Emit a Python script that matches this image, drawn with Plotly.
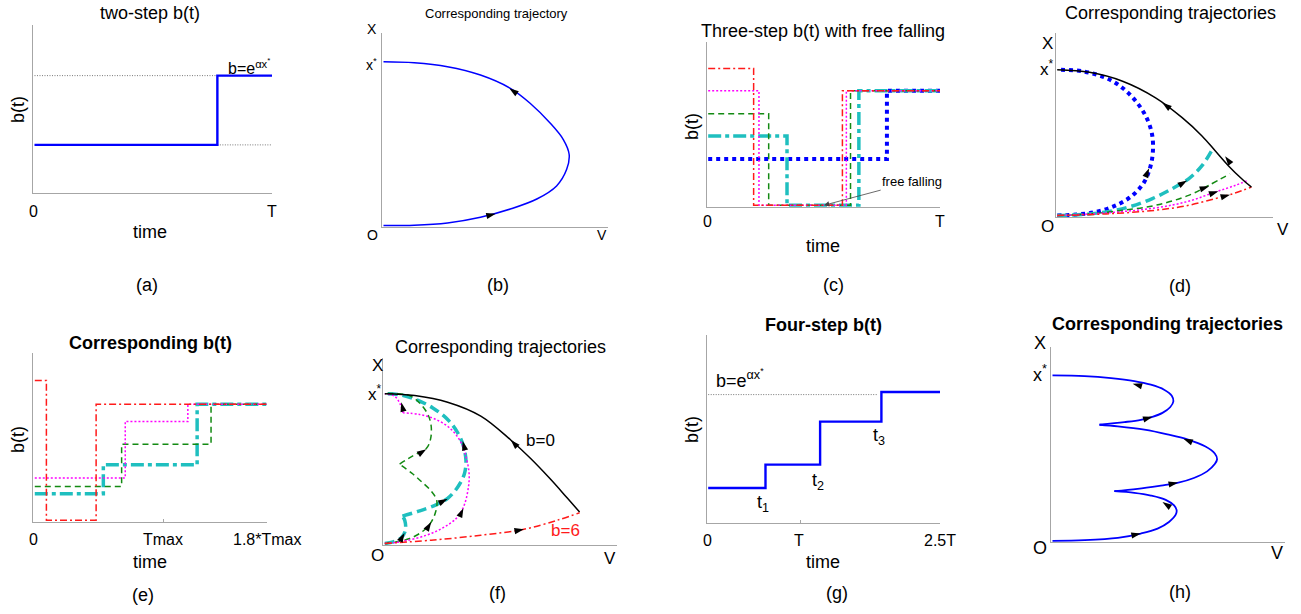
import math
import plotly.graph_objects as go

W, H = 1301, 614

# ---------------- data ----------------
# (a) two-step b(t)
a_time = [0, 0.77, 1.0]
a_b = [0.28, 0.696, 0.696]
a_guide_hi_time = [0, 1.0]
a_guide_hi_b = [0.696, 0.696]
a_guide_lo_time = [0.77, 1.0]
a_guide_lo_b = [0.28, 0.28]

# (b) corresponding trajectory (V, X)
b_V = [0, 0.137, 0.285, 0.432, 0.565, 0.653, 0.742, 0.801, 0.827, 0.816, 0.771, 0.683, 0.565, 0.432, 0.285, 0.137, 0]
b_X = [1.0, 0.994, 0.970, 0.919, 0.838, 0.747, 0.626, 0.525, 0.434, 0.343, 0.242, 0.162, 0.101, 0.051, 0.016, 0.002, 0]
b_arrows = [(0.56, 0.838, 0.60, 0.80), (0.50, 0.072, 0.45, 0.056)]

# (c) three-step b(t) with free falling
c_red_t = [0, 0.196, 0.579, 1.0]
c_red_b = [0.838, 0, 0.701, 0.701]
c_magenta_t = [0, 0.219, 0.596, 1.0]
c_magenta_b = [0.701, 0, 0.701, 0.701]
c_green_t = [0, 0.261, 0.614, 1.0]
c_green_b = [0.560, 0, 0.701, 0.701]
c_cyan_t = [0, 0.340, 0.650, 1.0]
c_cyan_b = [0.424, 0, 0.701, 0.701]
c_blue_t = [0, 0.771, 1.0]
c_blue_b = [0.283, 0.701, 0.701]
c_freefall_arrow = (0.50, 0.0, 0.88, 0.144)

# (d) corresponding trajectories
d_black_V = [0, 0.150, 0.303, 0.456, 0.579, 0.671, 0.732, 0.793, 0.855, 0.9]
d_black_X = [1.0, 0.982, 0.921, 0.807, 0.671, 0.546, 0.444, 0.342, 0.252, 0.195]
d_blue_V = [0, 0.089, 0.181, 0.273, 0.349, 0.403, 0.433, 0.444, 0.438, 0.410, 0.364, 0.303, 0.227, 0.119, 0]
d_blue_X = [0, 0.007, 0.025, 0.070, 0.138, 0.229, 0.342, 0.456, 0.569, 0.683, 0.785, 0.875, 0.943, 0.989, 1.0]
d_cyan_V = [0, 0.119, 0.227, 0.334, 0.441, 0.533, 0.609, 0.671, 0.724]
d_cyan_X = [0, 0.007, 0.025, 0.059, 0.116, 0.184, 0.252, 0.342, 0.467]
d_green_V = [0, 0.150, 0.303, 0.456, 0.609, 0.701, 0.801]
d_green_X = [0, 0.011, 0.036, 0.070, 0.138, 0.206, 0.286]
d_magenta_V = [0, 0.227, 0.456, 0.609, 0.732, 0.824, 0.882]
d_magenta_X = [0, 0.018, 0.052, 0.098, 0.161, 0.206, 0.240]
d_red_V = [0, 0.227, 0.456, 0.609, 0.732, 0.824, 0.9]
d_red_X = [0, 0.011, 0.036, 0.070, 0.116, 0.154, 0.195]
d_arrows = [(0.487, 0.773, 0.525, 0.732), (0.778, 0.406, 0.801, 0.361),
            (0.426, 0.324, 0.413, 0.279), (0.602, 0.240, 0.564, 0.206),
            (0.704, 0.200, 0.671, 0.184), (0.747, 0.166, 0.714, 0.150),
            (0.801, 0.143, 0.763, 0.127)]

# (e) corresponding b(t)
e_red_t = [0, 0.090, 0.476, 1.8]
e_red_b = [0.836, 0, 0.693, 0.693]
e_magenta_t = [0, 0.702, 1.188, 1.8]
e_magenta_b = [0.253, 0.590, 0.693, 0.693]
e_green_t = [0, 0.674, 1.368, 1.8]
e_green_b = [0.202, 0.455, 0.693, 0.693]
e_cyan_t = [0, 0.532, 1.260, 1.8]
e_cyan_b = [0.158, 0.331, 0.693, 0.693]

# (f) corresponding trajectories
f_black_V = [0, 0.129, 0.271, 0.414, 0.543, 0.629, 0.714, 0.786, 0.840]
f_black_X = [1.0, 0.987, 0.943, 0.850, 0.691, 0.567, 0.430, 0.305, 0.210]
f_red_V = [0, 0.2, 0.414, 0.6, 0.743, 0.84]
f_red_X = [0, 0.022, 0.055, 0.095, 0.155, 0.205]
f_magenta_V = [0, 0.079, 0.179, 0.25, 0.307, 0.339, 0.357, 0.364, 0.353, 0.329, 0.286, 0.221, 0.15, 0.079,
               None, 0.079, 0.064, 0.043, 0]
f_magenta_X = [0, 0.015, 0.055, 0.104, 0.166, 0.243, 0.342, 0.453, 0.563, 0.673, 0.762, 0.828, 0.861, 0.872,
               None, 0.872, 0.938, 0.982, 1.0]
f_green_V = [0, 0.05, 0.107, 0.164, 0.2, 0.219, 0.224, 0.2, 0.16, 0.121, 0.064,
             None, 0.064, 0.121, 0.179, 0.197, 0.2, 0.186, 0.15, 0.107, 0.05, 0]
f_green_X = [0, 0.011, 0.033, 0.082, 0.143, 0.21, 0.287, 0.35, 0.41, 0.464, 0.53,
             None, 0.53, 0.585, 0.634, 0.695, 0.784, 0.861, 0.938, 0.987, 1.0, 1.0]
f_cyan_V = [0, 0.036, 0.071, 0.089, 0.086, 0.076,
            None, 0.076, 0.143, 0.221, 0.271, 0.314, 0.343, 0.35, 0.339, 0.314, 0.271, 0.207, 0.136, 0.064, 0]
f_cyan_X = [0, 0.011, 0.038, 0.088, 0.155, 0.183,
            None, 0.183, 0.214, 0.258, 0.302, 0.375, 0.464, 0.552, 0.651, 0.74, 0.828, 0.905, 0.96, 0.993, 1.0]
f_arrows = [(0.543, 0.691, 0.575, 0.640), (0.60, 0.095, 0.564, 0.084),
            (0.2, 0.143, 0.185, 0.105), (0.179, 0.629, 0.15, 0.60),
            (0.085, 0.07, 0.075, 0.042), (0.271, 0.298, 0.235, 0.27), (0.336, 0.684, 0.345, 0.63),
            (0.339, 0.236, 0.325, 0.19), (0.071, 0.943, 0.077, 0.905)]

# (g) four-step b(t)
g_time = [0, 0.618, 1.207, 1.868, 2.5]
g_b = [0.178, 0.304, 0.535, 0.694, 0.694]
g_guide_time = [0, 1.82]
g_guide_b = [0.68, 0.68]

# (h) corresponding trajectories (three arcs separated by cusps)
h_V = [0, 0.138, 0.281, 0.380, 0.452, 0.501, 0.530, 0.534, 0.523, 0.487, 0.423, 0.352, 0.266,
       None, 0.266, 0.366, 0.466, 0.537, 0.608, 0.665, 0.698, 0.708, 0.698, 0.658, 0.580, 0.494, 0.395, 0.281, 0.202,
       None, 0.202, 0.309, 0.380, 0.430, 0.473, 0.506, 0.520, 0.513, 0.480, 0.423, 0.352, 0.252, 0.138, 0]
h_X = [0, 0.004, 0.018, 0.044, 0.074, 0.114, 0.158, 0.184, 0.214, 0.248, 0.274, 0.290, 0.300,
       None, 0.300, 0.314, 0.334, 0.350, 0.380, 0.420, 0.464, 0.494, 0.528, 0.570, 0.614, 0.644, 0.672, 0.692, 0.702,
       None, 0.702, 0.718, 0.732, 0.750, 0.774, 0.808, 0.844, 0.878, 0.914, 0.944, 0.966, 0.984, 0.996, 1.0]
h_arrows = [(0.380, 0.044, 0.345, 0.034), (0.473, 0.234, 0.501, 0.208),
            (0.540, 0.352, 0.504, 0.342), (0.563, 0.618, 0.597, 0.598),
            (0.430, 0.750, 0.397, 0.736), (0.345, 0.950, 0.380, 0.936)]

# ---------------- layout helpers ----------------
FONT = "Liberation Sans, Arial, sans-serif"
RED, MAG, GRN, CYN, BLU = "#ff1a1a", "#ff00ff", "#138a13", "#1fbfbf", "#0000ff"

panels = [
    ("a", 33, 272, 25, 193, (0, 1), (0, 1), None),
    ("b", 382, 608, 33, 227, (0, 1), (0, 1.176), None),
    ("c", 706.7, 940, 42, 206.7, (0, 1), (0, 1), None),
    ("d", 1055.7, 1273, 33, 217, (0, 1), (0, 1.252), None),
    ("e", 33.3, 266.7, 353, 521.7, (0, 1.8), (0, 1), [1.0]),
    ("f", 383.3, 616.7, 358, 545, (0, 1), (0, 1.238), None),
    ("g", 706.7, 940, 335, 522.7, (0, 2.5), (0, 1), [1.0]),
    ("h", 1051, 1285, 346.7, 542.3, (0, 1), (0, 1.174), None),
]

fig = go.Figure()
layout = dict(width=W, height=H, margin=dict(l=0, r=0, t=0, b=0),
              paper_bgcolor="white", plot_bgcolor="white", showlegend=False,
              font=dict(family=FONT, color="black"))
ids = {}
ppu = {}
for i, (k, x0, x1, yt, yb, xr, yr, xt) in enumerate(panels, start=1):
    s = "" if i == 1 else str(i)
    ids[k] = s
    xppu = (x1 - x0) / (xr[1] - xr[0])
    yppu = (yb - yt) / (yr[1] - yr[0])
    ppu[k] = (xppu, yppu)
    xa = dict(domain=[x0 / W, x1 / W], range=[xr[0] - 1.5 / xppu, xr[1]], anchor="y" + s,
              showline=True, linecolor="#a6a6a6", linewidth=1, showgrid=False, zeroline=False,
              showticklabels=False, fixedrange=True)
    if xt:
        xa.update(tickvals=xt, ticks="inside", ticklen=3, tickcolor="#a6a6a6")
    else:
        xa.update(ticks="")
    ya = dict(domain=[1 - yb / H, 1 - yt / H], range=[yr[0] - 1.5 / yppu, yr[1]], anchor="x" + s,
              showline=True, linecolor="#a6a6a6", linewidth=1, showgrid=False, zeroline=False,
              showticklabels=False, ticks="", fixedrange=True)
    layout["xaxis" + s] = xa
    layout["yaxis" + s] = ya

annotations = []


def line(p, x, y, color, width, dash="solid", shape="linear"):
    s = ids[p]
    fig.add_trace(go.Scatter(x=x, y=y, mode="lines", xaxis="x" + s, yaxis="y" + s,
                             line=dict(color=color, width=width, dash=dash, shape=shape),
                             connectgaps=False, hoverinfo="skip", showlegend=False))


def arrows(p, lst, color="black"):
    s = ids[p]
    xppu, yppu = ppu[p]
    xs, ys, angs = [], [], []
    for hx, hy, tx, ty in lst:
        xs.append(hx)
        ys.append(hy)
        angs.append(math.degrees(math.atan2((hx - tx) * xppu, (hy - ty) * yppu)))
    fig.add_trace(go.Scatter(x=xs, y=ys, mode="markers", xaxis="x" + s, yaxis="y" + s,
                             marker=dict(symbol="arrow", size=10, angle=angs, color=color,
                                         line=dict(width=0)),
                             cliponaxis=False, hoverinfo="skip", showlegend=False))


def txt(s, x, y, size=16, bold=False, color="black", angle=0):
    if bold:
        s = "<b>" + s + "</b>"
    annotations.append(dict(text=s, x=x / W, y=1 - y / H, xref="paper", yref="paper",
                            xanchor="center", yanchor="middle", showarrow=False, textangle=angle,
                            font=dict(size=size, color=color, family=FONT)))


DOTG = "1px,1.5px"
DASHDOT = "7px,3px,2px,3px"
DOT = "2px,2px"
DASH = "6px,4px"
THICKDD = "13px,4px,4px,4px"
THICKDASH = "10px,5px"
TS = 18   # titles
LS = 18   # axis labels and panel letters

# (a)
line("a", a_guide_hi_time, a_guide_hi_b, "#555", 0.8, DOTG)
line("a", a_guide_lo_time, a_guide_lo_b, "#555", 0.8, DOTG)
line("a", a_time, a_b, BLU, 2.4, "solid", "hv")
txt("two-step b(t)", 150, 13, TS)
txt("b(t)", 18, 110, LS, angle=-90)
txt("0", 33, 212)
txt("T", 272, 212)
txt("time", 150, 232, LS)
txt("(a)", 147, 285, LS)
txt("b=e<sup>αx<sup>*</sup></sup>", 249, 66, 16)

# (b)
line("b", b_V, b_X, BLU, 1.5, "solid", "spline")
arrows("b", b_arrows)
txt("Corresponding trajectory", 496, 13, 13)
txt("X", 372, 29, 14)
txt("x<sup>*</sup>", 371, 64, 14)
txt("O", 372, 235, 14)
txt("V", 602, 235, 14)
txt("(b)", 498, 285, LS)

# (c)
line("c", c_blue_t, c_blue_b, BLU, 4, "4px,4px", "hv")
line("c", c_cyan_t, c_cyan_b, CYN, 3.5, THICKDD, "hv")
line("c", c_green_t, c_green_b, GRN, 1.5, DASH, "hv")
line("c", c_magenta_t, c_magenta_b, MAG, 1.5, DOT, "hv")
line("c", c_red_t, c_red_b, RED, 1.5, DASHDOT, "hv")
hx, hy, tx, ty = c_freefall_arrow
annotations.append(dict(x=hx, y=hy, ax=tx, ay=ty, xref="x3", yref="y3", axref="x3", ayref="y3",
                        text="free falling", font=dict(size=13, family=FONT, color="black"),
                        showarrow=True, arrowhead=2, arrowsize=1.3, arrowwidth=0.8,
                        arrowcolor="#444", standoff=0))
txt("Three-step b(t) with free falling", 823, 31, TS)
txt("b(t)", 692, 127, LS, angle=-90)
txt("0", 707, 222)
txt("T", 940, 222)
txt("time", 823, 246, LS)
txt("(c)", 833, 285, LS)

# (d)
line("d", d_blue_V, d_blue_X, BLU, 4, "4px,4px", "spline")
line("d", d_cyan_V, d_cyan_X, CYN, 3.5, THICKDASH, "spline")
line("d", d_green_V, d_green_X, GRN, 1.5, DASH, "spline")
line("d", d_magenta_V, d_magenta_X, MAG, 1.5, DOT, "spline")
line("d", d_red_V, d_red_X, RED, 1.5, DASHDOT, "spline")
line("d", d_black_V, d_black_X, "black", 1.5, "solid", "spline")
arrows("d", d_arrows)
txt("Corresponding trajectories", 1170, 13, TS)
txt("X", 1047, 43, 17)
txt("x<sup>*</sup>", 1047, 68, 17)
txt("O", 1047, 227, 17)
txt("V", 1283, 230, 17)
txt("(d)", 1180, 286, LS)

# (e)
line("e", e_cyan_t, e_cyan_b, CYN, 3.5, THICKDD, "hv")
line("e", e_green_t, e_green_b, GRN, 1.5, DASH, "hv")
line("e", e_magenta_t, e_magenta_b, MAG, 1.5, DOT, "hv")
line("e", e_red_t, e_red_b, RED, 1.5, DASHDOT, "hv")
txt("Corresponding b(t)", 150, 343, TS, bold=True)
txt("b(t)", 18, 440, LS, angle=-90)
txt("0", 33, 539)
txt("Tmax", 163, 539)
txt("1.8*Tmax", 267, 539)
txt("time", 150, 562, LS)
txt("(e)", 143, 595, LS)

# (f)
line("f", f_cyan_V, f_cyan_X, CYN, 3.5, THICKDASH, "spline")
line("f", f_green_V, f_green_X, GRN, 1.5, DASH, "spline")
line("f", f_magenta_V, f_magenta_X, MAG, 1.5, DOT, "spline")
line("f", f_red_V, f_red_X, RED, 1.5, DASHDOT, "spline")
line("f", f_black_V, f_black_X, "black", 1.5, "solid", "spline")
arrows("f", f_arrows)
txt("Corresponding trajectories", 500, 347, TS)
txt("X", 377, 365, 17)
txt("x<sup>*</sup>", 375, 393, 17)
txt("O", 377, 555, 17)
txt("V", 610, 558, 17)
txt("(f)", 497, 593, LS)
txt("b=0", 540, 440, 17)
txt("b=6", 565, 530, 17, color=RED)

# (g)
line("g", g_guide_time, g_guide_b, "#555", 0.8, DOTG)
line("g", g_time, g_b, BLU, 2.4, "solid", "hv")
txt("Four-step b(t)", 823, 325, TS, bold=True)
txt("b(t)", 692, 430, LS, angle=-90)
txt("0", 707, 540)
txt("T", 799, 540)
txt("2.5T", 940, 540)
txt("time", 823, 562, LS)
txt("(g)", 837, 593, LS)
txt("b=e<sup>αx<sup>*</sup></sup>", 740, 378, 18)
txt("t<sub>1</sub>", 763, 503, 18)
txt("t<sub>2</sub>", 818, 481, 18)
txt("t<sub>3</sub>", 879, 436, 18)

# (h)
line("h", h_V, h_X, BLU, 1.8, "solid", "spline")
arrows("h", h_arrows)
txt("Corresponding trajectories", 1167, 324, TS, bold=True)
txt("X", 1040, 343, 18)
txt("x<sup>*</sup>", 1040, 373, 18)
txt("O", 1040, 548, 18)
txt("V", 1277, 553, 18)
txt("(h)", 1180, 592, LS)

layout["annotations"] = annotations
fig.update_layout(**layout)
fig.write_html("out.html", config={"displayModeBar": False},
               post_script="document.body.style.margin='0px';")
